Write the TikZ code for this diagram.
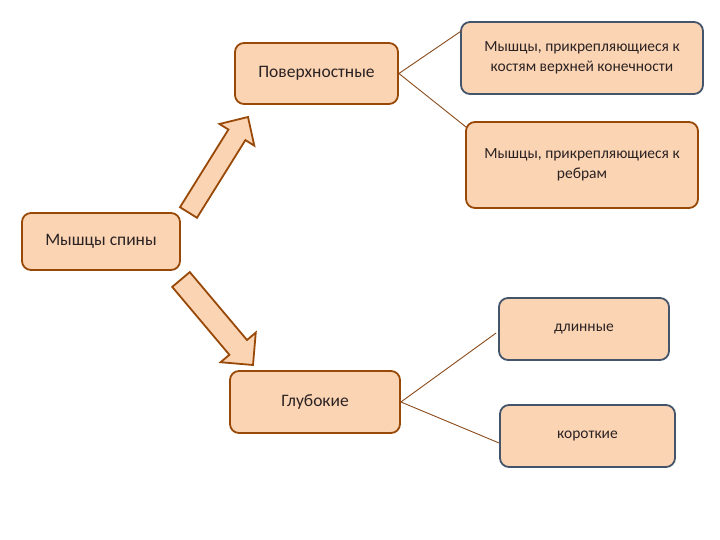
\documentclass[tikz,border=0pt]{standalone}
\usepackage{fontspec}
\setmainfont{Carlito}
\usetikzlibrary{calc}
\definecolor{peach}{HTML}{FBD4B4}
\definecolor{brownb}{HTML}{984807}
\definecolor{slateb}{HTML}{44546A}
\definecolor{txt}{HTML}{2B2222}
\definecolor{linec}{HTML}{8A4A1A}
\tikzset{
  box/.style={draw=brownb, fill=peach, line width=1.8pt, rounded corners=9pt, align=center, text=txt, font=\fontsize{17.5}{21}\selectfont, inner sep=0pt},
  smalltext/.style={font=\fontsize{15.5}{20}\selectfont},
  bbox/.style={box, draw=slateb},
  conn/.style={draw=linec, line width=0.9pt},
  blockarrow/.style={draw=brownb, fill=peach, line width=1.8pt, line join=miter}
}
\begin{document}
\begin{tikzpicture}[x=1pt,y=-1pt]
\useasboundingbox (0,0) rectangle (720,540);
\node[box, minimum width=158pt, minimum height=57pt] (spine) at (101,241.5) {Мышцы спины};
\node[box, minimum width=163pt, minimum height=61pt] (pov) at (316.5,73.5) {Поверхностные};
\node[box, minimum width=170pt, minimum height=62pt] (glub) at (315,402) {Глубокие};
\node[bbox, smalltext, minimum width=242pt, minimum height=72pt] (bones) at (582,58) {Мышцы, прикрепляющиеся к\\костям  верхней конечности};
\node[box, smalltext, minimum width=232pt, minimum height=86pt] (ribs) at (582,165) {Мышцы, прикрепляющиеся к\\ребрам};
\node[bbox, smalltext, minimum width=170pt, minimum height=62pt] (long) at (584,329) {длинные};
\node[bbox, smalltext, minimum width=175pt, minimum height=62pt] (short) at (587.5,436) {короткие};
% connectors
\draw[conn] (pov.east) -- ($(bones.north west)+(1,10)$);
\draw[conn] (pov.east) -- ($(ribs.north west)+(1,6)$);
\draw[conn] (glub.east) -- ($(long.west)+(-2,4)$);
\draw[conn] (glub.east) -- ($(short.west)+(0,7)$);
% block arrows
\coordinate (T1) at (188.5,212.5);
\coordinate (P1) at (248,117);
\coordinate (B1) at ($(P1)!21pt!(T1)$);
\draw[blockarrow] ($(T1)!10pt!90:(P1)$) -- ($(B1)!10pt!90:(P1)$) -- ($(B1)!20.5pt!90:(P1)$) -- (P1)
  -- ($(B1)!20.5pt!-90:(P1)$) -- ($(B1)!10pt!-90:(P1)$) -- ($(T1)!10pt!-90:(P1)$) -- cycle;
\coordinate (T2) at (181,279.5);
\coordinate (P2) at (253,365);
\coordinate (B2) at ($(P2)!23pt!(T2)$);
\draw[blockarrow] ($(T2)!11.5pt!90:(P2)$) -- ($(B2)!11.5pt!90:(P2)$) -- ($(B2)!23pt!90:(P2)$) -- (P2)
  -- ($(B2)!23pt!-90:(P2)$) -- ($(B2)!11.5pt!-90:(P2)$) -- ($(T2)!11.5pt!-90:(P2)$) -- cycle;
\end{tikzpicture}
\end{document}
